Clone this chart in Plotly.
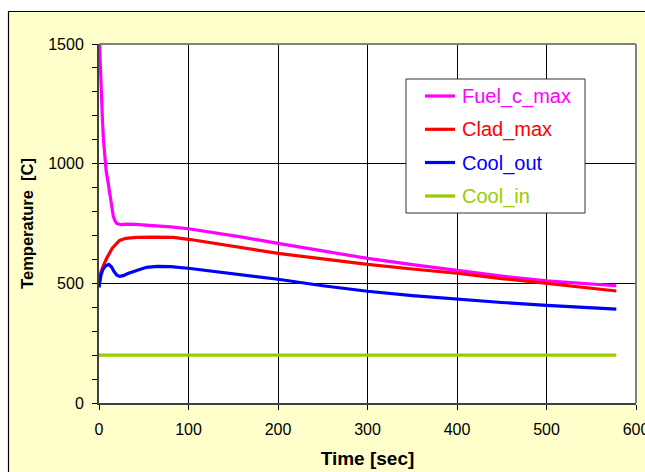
import plotly.graph_objects as go

# ---- data ----
t_fuel = [0, 1, 2, 3, 4, 5, 6, 8, 10, 12, 14, 16, 18, 20, 25, 30, 40, 60, 80, 100, 130, 160, 200, 250, 300, 350, 400, 450, 500, 550, 578]
fuel_c_max = [1560, 1440, 1340, 1250, 1170, 1100, 1040, 970, 925, 870, 815, 780, 760, 750, 745, 747, 746, 742, 736, 728, 712, 693, 667, 635, 604, 578, 554, 530, 510, 497, 490]

t_clad = [0, 2, 5, 9, 15, 23, 30, 42, 60, 83, 102, 130, 157, 200, 250, 300, 350, 400, 450, 500, 550, 578]
clad_max = [505, 545, 575, 608, 648, 679, 688, 692, 693, 692, 683, 667, 650, 625, 602, 579, 560, 542, 520, 500, 480, 468]

t_out = [0, 2, 4, 7, 11, 14, 17, 20, 23, 27, 33, 40, 53, 65, 80, 102, 130, 157, 200, 250, 300, 350, 400, 450, 500, 550, 578]
cool_out = [483, 530, 555, 572, 579, 568, 548, 534, 529, 532, 542, 552, 567, 571, 570, 562, 550, 537, 517, 490, 467, 449, 433, 420, 408, 398, 392]

t_in = [0, 578]
cool_in = [200, 200]

series_names = ["Fuel_c_max", "Clad_max", "Cool_out", "Cool_in"]
series_colors = ["#FF00FF", "#FF0000", "#0000FF", "#99CC00"]
series_t = [t_fuel, t_clad, t_out, t_in]
series_v = [fuel_c_max, clad_max, cool_out, cool_in]

x_ticks = [0, 100, 200, 300, 400, 500, 600]
y_ticks = [0, 500, 1000, 1500]

FONT = "Liberation Sans, Arial, sans-serif"

fig = go.Figure()
for name, tx, ty, col in zip(series_names, series_t, series_v, series_colors):
    fig.add_trace(go.Scatter(
        x=tx, y=ty, mode="lines", line=dict(color=col, width=3.2),
        name=name, showlegend=False,
    ))

# plot area geometry (px): x 99..636, y 44..403 in a 645x472 page
L, R, T, B = 99, 636, 44, 403
W, H = R - L, B - T

def px(x):
    return (x - L) / W

def py(y):
    return (B - y) / H

shapes = [
    # white strips top and left of the chart frame
    dict(type="rect", xref="paper", yref="paper", x0=px(-5), x1=px(660), y0=py(11), y1=py(-5),
         fillcolor="white", line_width=0, layer="below"),
    dict(type="rect", xref="paper", yref="paper", x0=px(-5), x1=px(8), y0=py(480), y1=py(-5),
         fillcolor="white", line_width=0, layer="below"),
    # frame lines
    dict(type="line", xref="paper", yref="paper", x0=px(8), x1=px(660), y0=py(11.5), y1=py(11.5),
         line=dict(color="black", width=1.2)),
    dict(type="line", xref="paper", yref="paper", x0=px(8.5), x1=px(8.5), y0=py(11), y1=py(480),
         line=dict(color="black", width=1.2)),
    # gray plot border top & right
    dict(type="line", xref="paper", yref="paper", x0=0, x1=1, y0=1, y1=1,
         line=dict(color="#808080", width=2)),
    dict(type="line", xref="paper", yref="paper", x0=1, x1=1, y0=0, y1=1,
         line=dict(color="#808080", width=2)),
    # legend box
    dict(type="rect", xref="paper", yref="paper", x0=px(406), x1=px(585), y0=py(213), y1=py(79),
         fillcolor="white", line=dict(color="#333333", width=1)),
]

annotations = []
legend_y = [96, 129.3, 162.5, 196]
for name, col, ly in zip(series_names, series_colors, legend_y):
    shapes.append(dict(type="line", xref="paper", yref="paper", x0=px(425), x1=px(455),
                       y0=py(ly), y1=py(ly), line=dict(color=col, width=3.2)))
    annotations.append(dict(xref="paper", yref="paper", x=px(460), y=py(ly + 0.5),
                            xanchor="left", yanchor="middle", showarrow=False,
                            text=name, font=dict(family=FONT, size=20, color=col)))

fig.update_layout(
    width=645, height=472,
    margin=dict(l=L, r=645 - R, t=T, b=472 - B),
    paper_bgcolor="#FFFFCC",
    plot_bgcolor="white",
    font=dict(family=FONT, size=16, color="black"),
    shapes=shapes,
    annotations=annotations,
    showlegend=False,
    xaxis=dict(
        range=[0, 600], tickvals=x_ticks, ticktext=[str(v) for v in x_ticks],
        showgrid=True, gridcolor="black", gridwidth=1,
        showline=True, linecolor="#404040", linewidth=2,
        ticks="outside", ticklen=5, tickcolor="black",
        ticklabelstandoff=6, ticklabeloverflow="allow",
        tickfont=dict(size=16), zeroline=False, automargin=False,
        title=dict(text="<b>Time [sec]</b>", font=dict(size=19), standoff=14),
    ),
    yaxis=dict(
        range=[0, 1500], tickvals=y_ticks, ticktext=[str(v) for v in y_ticks],
        showgrid=True, gridcolor="black", gridwidth=1,
        showline=True, linecolor="#404040", linewidth=2,
        ticks="outside", ticklen=5, tickcolor="black",
        ticklabelstandoff=5, automargin=False,
        minor=dict(dtick=100, ticks="outside", ticklen=5, tickcolor="black", showgrid=False),
        tickfont=dict(size=16), zeroline=False,
        title=dict(text="<b>Temperature  [C]</b>", font=dict(size=16.5), standoff=10),
    ),
)

fig.write_html("out.html")
